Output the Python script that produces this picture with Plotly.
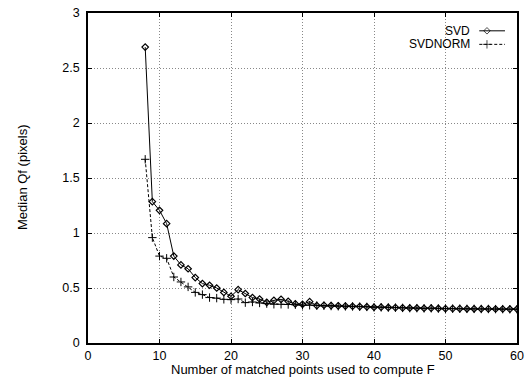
import plotly.graph_objects as go

x_points = list(range(8, 61))
svd = [2.69, 1.285, 1.206, 1.085, 0.79, 0.71, 0.675, 0.595, 0.54, 0.525,
       0.50, 0.46, 0.425, 0.485, 0.45, 0.413, 0.40, 0.37, 0.388, 0.397,
       0.379, 0.355, 0.352, 0.376, 0.34, 0.343, 0.34, 0.338, 0.336, 0.334,
       0.331, 0.329, 0.325, 0.326, 0.323, 0.322, 0.32, 0.318, 0.318, 0.316,
       0.317, 0.314, 0.312, 0.313, 0.312, 0.311, 0.311, 0.31, 0.31, 0.309,
       0.309, 0.308, 0.308]
svdnorm = [1.67, 0.958, 0.79, 0.77, 0.60, 0.555, 0.51, 0.46, 0.44, 0.413,
           0.408, 0.397, 0.394, 0.40, 0.367, 0.373, 0.364, 0.358, 0.352, 0.352,
           0.35, 0.348, 0.343, 0.343, 0.34, 0.338, 0.336, 0.334, 0.333, 0.332,
           0.33, 0.328, 0.324, 0.324, 0.322, 0.321, 0.319, 0.317, 0.317, 0.315,
           0.316, 0.313, 0.311, 0.312, 0.311, 0.31, 0.31, 0.309, 0.309, 0.308,
           0.308, 0.307, 0.307]
series_names = ["SVD", "SVDNORM"]
x_ticks = [0, 10, 20, 30, 40, 50, 60]
y_ticks = [0, 0.5, 1, 1.5, 2, 2.5, 3]
y_tick_labels = ["0", "0.5", "1", "1.5", "2", "2.5", "3"]
x_title = "Number of matched points used to compute F"
y_title = "Median Qf (pixels)"

FONT = "Liberation Sans, Arial, sans-serif"

fig = go.Figure()
fig.add_trace(go.Scatter(
    x=x_points, y=svd, mode="lines+markers", name=series_names[0],
    line=dict(color="black", width=1),
    marker=dict(symbol="diamond-open", size=5, color="black", line=dict(width=1.2)),
    showlegend=False))
fig.add_trace(go.Scatter(
    x=x_points, y=svdnorm, mode="lines+markers", name=series_names[1],
    line=dict(color="black", width=1, dash="3px,2px"),
    marker=dict(symbol="cross-thin", size=6, color="black", line=dict(width=1, color="black")),
    showlegend=False))

# custom legend (text left, sample right, gnuplot style)
leg_y = [0.946, 0.905]
styles = [dict(dash="solid", sym="diamond-open", size=5),
          dict(dash="3px,2px", sym="cross-thin", size=6)]
for name, ly, st in zip(series_names, leg_y, styles):
    fig.add_annotation(x=0.895, y=ly, xref="paper", yref="paper", text=name,
                       showarrow=False, xanchor="right", yanchor="middle",
                       font=dict(family=FONT, size=12, color="black"))
    fig.add_trace(go.Scatter(
        x=[0.912, 0.93, 0.972], y=[ly, ly, ly], xaxis="x2", yaxis="y2",
        mode="lines+markers", showlegend=False, hoverinfo="skip",
        line=dict(color="black", width=1, dash=st["dash"]),
        marker=dict(symbol=st["sym"], size=[0, st["size"], 0], color="black",
                    line=dict(width=1, color="black"))))

# axis titles
fig.add_annotation(x=0.5, y=0, xref="paper", yref="paper", text=x_title,
                   showarrow=False, xanchor="center", yanchor="middle", yshift=-26,
                   font=dict(family=FONT, size=13, color="black"))
fig.add_annotation(x=0, y=0.5, xref="paper", yref="paper", text=y_title,
                   showarrow=False, xanchor="center", yanchor="middle", xshift=-66,
                   textangle=-90, font=dict(family=FONT, size=13, color="black"))

axis_common = dict(showline=True, linecolor="black", linewidth=1.5, mirror="ticks",
                   ticks="inside", ticklen=4, tickcolor="black", automargin=False,
                   showgrid=True, gridcolor="#888888", griddash="1px,2px", gridwidth=1,
                   zeroline=False, tickfont=dict(family=FONT, size=12.5, color="black"))

fig.update_layout(
    width=530, height=377,
    margin=dict(l=88, r=13, t=13, b=34),
    paper_bgcolor="white", plot_bgcolor="white",
    xaxis=dict(range=[0, 60], tickvals=x_ticks, ticklabelstandoff=0, **axis_common),
    yaxis=dict(range=[0, 3], tickvals=y_ticks, ticktext=y_tick_labels,
               ticklabelstandoff=4, **axis_common),
    xaxis2=dict(range=[0, 1], overlaying="x", visible=False, anchor="y2"),
    yaxis2=dict(range=[0, 1], overlaying="y", visible=False, anchor="x2"),
    showlegend=False,
)

fig.write_html("out.html")
